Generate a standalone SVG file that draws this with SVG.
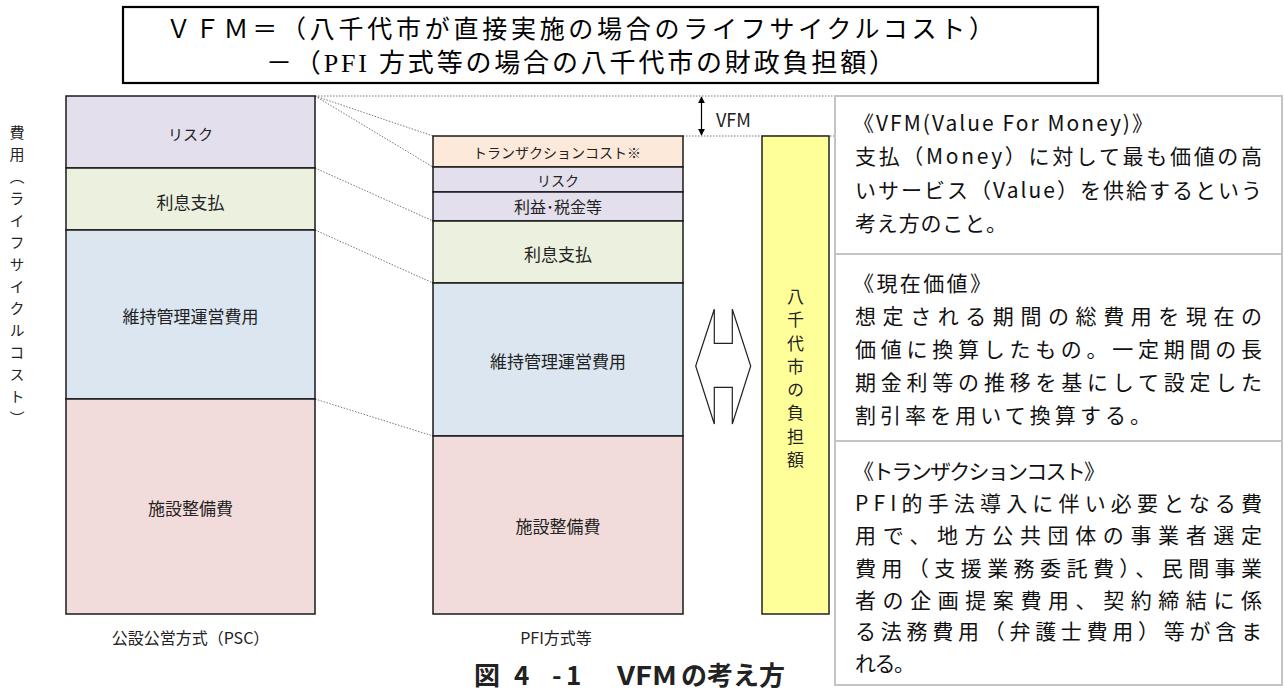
<svg xmlns="http://www.w3.org/2000/svg" width="1284" height="698" viewBox="0 0 1284 698">
<style>
  .t { font-family: "Noto Sans CJK JP", "Noto Sans", sans-serif; fill: #222; }
  .c { text-anchor: middle; dominant-baseline: central; }
  .title { font-family: "Liberation Serif", "Noto Sans CJK JP", serif; fill: #000; }
  .bar { stroke: #1a1a1a; stroke-width: 1.5; }
  .dot { stroke: #666; stroke-width: 0.9; stroke-dasharray: 1.5 1.5; fill: none; }
  .pnl { font-family: "Noto Sans CJK JP", "Noto Sans", sans-serif; font-size: 21px; fill: #111; dominant-baseline: central; }
  .box { fill: #fff; stroke: #c4c4c4; stroke-width: 2; }
</style>
<defs>
  <marker id="ah" viewBox="0 0 10 10" refX="9" refY="5" markerWidth="7" markerHeight="7" orient="auto-start-reverse" markerUnits="userSpaceOnUse">
    <path d="M0,0 L10,5 L0,10 z" fill="#000"/>
  </marker>
</defs>

<g id="title">
  <rect x="123" y="7" width="975" height="76" fill="#fff" stroke="#000" stroke-width="2.2"/>
  <text class="title" x="166" y="38" style="font-size:25px" textLength="828" lengthAdjust="spacing">ＶＦＭ＝（八千代市が直接実施の場合のライフサイクルコスト）</text>
  <text class="title" x="266" y="72" style="font-size:26px" textLength="629" lengthAdjust="spacing">－（PFI 方式等の場合の八千代市の財政負担額）</text>
</g>

<g id="axis-label">
  <text class="t" x="17" y="125" font-size="15" writing-mode="vertical-rl" style="letter-spacing:7px">費用（ライフサイクルコスト）</text>
</g>

<g id="connectors">
  <line class="dot" x1="315" y1="96" x2="835" y2="96"/>
  <line class="dot" x1="683" y1="136" x2="835" y2="136"/>
  <line class="dot" x1="315" y1="96" x2="433" y2="136"/>
  <line class="dot" x1="315" y1="96" x2="433" y2="167"/>
  <line class="dot" x1="315" y1="168" x2="433" y2="221"/>
  <line class="dot" x1="315" y1="230" x2="433" y2="283"/>
  <line class="dot" x1="315" y1="399" x2="433" y2="436"/>
  <line x1="701.5" y1="97" x2="701.5" y2="135" stroke="#000" stroke-width="1.2" marker-start="url(#ah)" marker-end="url(#ah)"/>
</g>

<g id="psc-risk">
  <rect class="bar" x="66" y="96" width="249" height="72" fill="#E4DFEC"/>
  <text class="t c" x="190.5" y="133" font-size="15">リスク</text>
</g>
<g id="psc-interest">
  <rect class="bar" x="66" y="168" width="249" height="62" fill="#EBF1DE"/>
  <text class="t c" x="190.5" y="201" font-size="17">利息支払</text>
</g>
<g id="psc-om">
  <rect class="bar" x="66" y="230" width="249" height="169" fill="#DCE6F1"/>
  <text class="t c" x="190.5" y="315" font-size="17">維持管理運営費用</text>
</g>
<g id="psc-facility">
  <rect class="bar" x="66" y="399" width="249" height="215" fill="#F2DCDB"/>
  <text class="t c" x="190.5" y="507" font-size="17">施設整備費</text>
</g>
<g id="psc-label">
  <text class="t c" x="190.5" y="637" font-size="16">公設公営方式（PSC）</text>
</g>

<g id="pfi-transaction">
  <rect class="bar" x="433" y="136" width="250" height="31" fill="#FDE9D9"/>
  <text class="t c" x="557" y="152" font-size="14">トランザクションコスト※</text>
</g>
<g id="pfi-risk">
  <rect class="bar" x="433" y="167" width="250" height="25" fill="#E4DFEC"/>
  <text class="t c" x="558" y="179.5" font-size="14">リスク</text>
</g>
<g id="pfi-profit">
  <rect class="bar" x="433" y="192" width="250" height="29" fill="#E4DFEC"/>
  <text class="t c" x="558" y="206" font-size="16">利益･税金等</text>
</g>
<g id="pfi-interest">
  <rect class="bar" x="433" y="221" width="250" height="62" fill="#EBF1DE"/>
  <text class="t c" x="558" y="253" font-size="17">利息支払</text>
</g>
<g id="pfi-om">
  <rect class="bar" x="433" y="283" width="250" height="153" fill="#DCE6F1"/>
  <text class="t c" x="558" y="360" font-size="17">維持管理運営費用</text>
</g>
<g id="pfi-facility">
  <rect class="bar" x="433" y="436" width="250" height="178" fill="#F2DCDB"/>
  <text class="t c" x="558" y="525" font-size="17">施設整備費</text>
</g>
<g id="pfi-label">
  <text class="t c" x="556" y="637" font-size="16">PFI方式等</text>
</g>

<g id="vfm-label">
  <text class="t" x="716" y="127" font-size="18">VFM</text>
</g>

<g id="compare-arrow">
  <polygon points="714.3,309.3 714.3,343.3 732.3,343.3 732.3,309.3 750.7,366 732.3,424 732.3,387.3 714.3,387.3 714.3,424 695.7,366" fill="#fff" stroke="#222" stroke-width="1.2"/>
</g>

<g id="city-burden">
  <rect x="762" y="136" width="67" height="478" fill="#FFFF99" stroke="#222" stroke-width="1.5"/>
  <text class="t" x="795.5" y="288" font-size="17" writing-mode="vertical-rl" style="letter-spacing:6.3px">八千代市の負担額</text>
</g>

<g id="panel-vfm">
  <rect class="box" x="835" y="96" width="447" height="158"/>
  <text class="pnl" x="853" y="122" textLength="300" lengthAdjust="spacing">《VFM(Value For Money)》</text>
  <text class="pnl" x="855" y="155" textLength="407" lengthAdjust="spacing">支払（Money）に対して最も価値の高</text>
  <text class="pnl" x="855" y="188.5" textLength="407" lengthAdjust="spacing">いサービス（Value）を供給するという</text>
  <text class="pnl" x="855" y="221.5" textLength="152" lengthAdjust="spacing">考え方のこと。</text>
</g>
<g id="panel-pv">
  <rect class="box" x="835" y="254" width="447" height="187"/>
  <text class="pnl" x="853" y="282" textLength="138" lengthAdjust="spacing">《現在価値》</text>
  <text class="pnl" x="855" y="315" textLength="407" lengthAdjust="spacing">想定される期間の総費用を現在の</text>
  <text class="pnl" x="855" y="348" textLength="407" lengthAdjust="spacing">価値に換算したもの。一定期間の長</text>
  <text class="pnl" x="855" y="381" textLength="407" lengthAdjust="spacing">期金利等の推移を基にして設定した</text>
  <text class="pnl" x="855" y="413.5" textLength="296" lengthAdjust="spacing">割引率を用いて換算する。</text>
</g>
<g id="panel-tc">
  <rect class="box" x="835" y="441" width="447" height="244"/>
  <text class="pnl" x="853" y="470" textLength="252" lengthAdjust="spacing">《トランザクションコスト》</text>
  <text class="pnl" x="855" y="502" textLength="407" lengthAdjust="spacing">PFI的手法導入に伴い必要となる費</text>
  <text class="pnl" x="855" y="534" textLength="407" lengthAdjust="spacing">用で、地方公共団体の事業者選定</text>
  <text class="pnl" x="855" y="566.5" textLength="407" lengthAdjust="spacing">費用（支援業務委託費）、民間事業</text>
  <text class="pnl" x="855" y="598.5" textLength="407" lengthAdjust="spacing">者の企画提案費用、契約締結に係</text>
  <text class="pnl" x="855" y="630" textLength="407" lengthAdjust="spacing">る法務費用（弁護士費用）等が含ま</text>
  <text class="pnl" x="855" y="662" textLength="60" lengthAdjust="spacing">れる。</text>
</g>

<g id="caption">
  <text class="t" y="685" font-size="26" font-weight="bold" fill="#000"><tspan x="474">図</tspan><tspan x="514">4</tspan><tspan x="552">-</tspan><tspan x="566">1</tspan><tspan x="617" textLength="60" lengthAdjust="spacingAndGlyphs">VFM</tspan><tspan x="681">の考え方</tspan></text>
</g>
</svg>
